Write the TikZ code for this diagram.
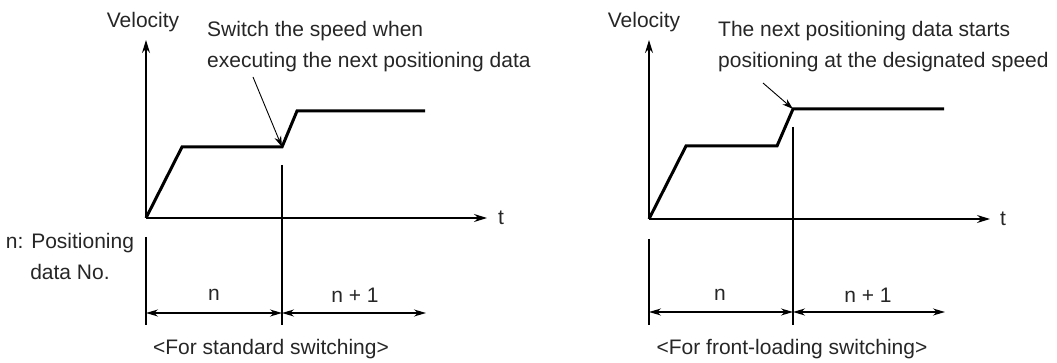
\documentclass[tikz,border=0pt]{standalone}
\usepackage{fontspec}
\setmainfont{Liberation Sans}
\usetikzlibrary{arrows.meta}
\begin{document}
\begin{tikzpicture}[x=1pt,y=-1pt,
  lbl/.style={font=\fontsize{21}{31}\selectfont, inner sep=0pt, text=black!85},
  axis/.style={line width=1.4pt,-{Stealth[length=13pt,width=8pt]}},
  prof/.style={line width=3pt, line join=miter},
  ext/.style={line width=1.4pt},
  dim/.style={line width=1.4pt,{Stealth[length=12pt,width=7pt]}-{Stealth[length=12pt,width=7pt]}},
  note/.style={line width=0.9pt,-{Stealth[length=11pt,width=7pt]}}]
\useasboundingbox (0,0) rectangle (1057,363);

% ---------------- left diagram ----------------
\coordinate (LO) at (146,218);
\coordinate (LY) at (146,40);
\coordinate (LX) at (487,218);
\coordinate (La) at (182,147);
\coordinate (Lb) at (282,147);
\coordinate (Lc) at (297,111);
\coordinate (Ld) at (425,111);
\coordinate (Lv1) at (282,165);
\coordinate (Lv1e) at (282,325);
\coordinate (Lv0) at (146,237);
\coordinate (Lv0e) at (146,325);
\coordinate (Ld0) at (146,313);
\coordinate (Ld1) at (282,313);
\coordinate (Ld2) at (426,313);
\coordinate (Lns) at (253,77);

\draw[axis] (LO) -- (LY);
\draw[axis] (LO) -- (LX);
\draw[prof] (LO) -- (La) -- (Lb) -- (Lc) -- (Ld);
\draw[ext] (Lv1) -- (Lv1e);
\draw[ext] (Lv0) -- (Lv0e);
\draw[dim] (Ld0) -- (Ld1);
\draw[dim] (Ld1) -- (Ld2);
\draw[note] (Lns) -- (Lb);

\node[lbl] (Lvel) at (143,22) {Velocity};
\node[lbl] (Lt) at (501,218) {t};
\node[lbl, align=left, anchor=west] (Lnote) at (207,47) {Switch the speed when\\executing the next positioning data};
\node[lbl, align=center] (Lkey) at (70,256) {n: Positioning\\data No.};
\node[lbl] (Ln) at (214,295) {n};
\node[lbl] (Ln1) at (355,295) {n + 1};
\node[lbl] (Lcap) at (271,349) {<For standard switching>};

% ---------------- right diagram ----------------
\coordinate (RO) at (649,219);
\coordinate (RY) at (649,40);
\coordinate (RX) at (990,219);
\coordinate (Ra) at (686,146);
\coordinate (Rb) at (777,146);
\coordinate (Rc) at (793,109);
\coordinate (Rd) at (944,109);
\coordinate (Rv1) at (793,127);
\coordinate (Rv1e) at (793,325);
\coordinate (Rv0) at (649,239);
\coordinate (Rv0e) at (649,325);
\coordinate (Rd0) at (649,312);
\coordinate (Rd1) at (793,312);
\coordinate (Rd2) at (945,312);
\coordinate (Rns) at (763,83);

\draw[axis] (RO) -- (RY);
\draw[axis] (RO) -- (RX);
\draw[prof] (RO) -- (Ra) -- (Rb) -- (Rc) -- (Rd);
\draw[ext] (Rv1) -- (Rv1e);
\draw[ext] (Rv0) -- (Rv0e);
\draw[dim] (Rd0) -- (Rd1);
\draw[dim] (Rd1) -- (Rd2);
\draw[note] (Rns) -- (Rc);

\node[lbl] (Rvel) at (644,22) {Velocity};
\node[lbl] (Rt) at (1003,219) {t};
\node[lbl, align=left, anchor=west] (Rnote) at (718,47) {The next positioning data starts\\positioning at the designated speed};
\node[lbl] (Rn) at (720,295) {n};
\node[lbl] (Rn1) at (868,295) {n + 1};
\node[lbl] (Rcap) at (792,349) {<For front-loading switching>};
\end{tikzpicture}
\end{document}
